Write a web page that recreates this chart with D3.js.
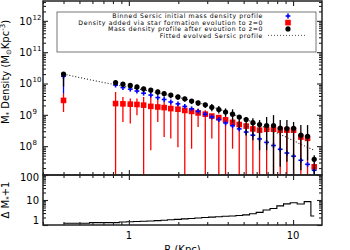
<!DOCTYPE html>
<html>
<head>
<meta charset="utf-8">
<script src="https://cdn.jsdelivr.net/npm/d3@7"></script>
<style>
body { margin: 0; background: #fff; }
svg { display: block; font-family: "DejaVu Sans", sans-serif; }
</style>
</head>
<body>
<svg width="350" height="250"></svg>
<script>
// bin centres (Kpc)
var radius = [0.40, 0.83, 0.92, 1.02, 1.12, 1.23, 1.36, 1.50, 1.64, 1.80, 1.99, 2.19, 2.41, 2.64, 2.92, 3.20,
    3.53, 3.88, 4.28, 4.70, 5.18, 5.69, 6.25, 6.90, 7.60, 8.35, 9.17, 10.07, 11.15, 12.25, 13.45];

// binned sersic initial profile (blue)
var initial = [1.70e10, 8.91e9, 7.41e9, 6.61e9, 5.75e9, 4.90e9, 4.27e9, 3.55e9, 3.09e9, 2.57e9, 2.24e9, 1.86e9,
    1.55e9, 1.29e9, 1.05e9, 8.51e8, 7.08e8, 5.50e8, 4.47e8, 3.55e8, 2.82e8, 2.24e8, 1.70e8, 1.32e8, 1.05e8,
    7.94e7, 6.03e7, 4.79e7, 3.55e7, 2.63e7, 1.70e7];
var initialHi = [null, null, null, null, null, null, null, null, null, null, null, null, null, null, null, null,
    null, null, null, null, null, null, null, null, null, null, null, null, null, null, 1.70e7];
var initialLo = [4.8e9, null, null, null, null, null, null, null, null, null, null, null, null, null, null, null,
    null, null, null, null, null, null, null, null, null, null, null, null, null, null, 0];

// density added via star formation (red)
var added = [2.88e9, 2.29e9, 2.24e9, 2.19e9, 2.14e9, 2.04e9, 1.86e9, 1.78e9, 1.70e9, 1.58e9, 1.51e9, 1.38e9,
    1.29e9, 1.15e9, 1.05e9, 9.12e8, 8.13e8, 6.92e8, 5.75e8, 4.90e8, 4.37e8, 3.55e8, 3.24e8, 3.47e8, 3.47e8,
    3.24e8, 3.24e8, 3.24e8, 1.95e8, 1.78e8, 2.19e7];
var addedHi = [4.9e9, 5.37e9, 3.72e9, 3.31e9, 3.31e9, 3.72e9, 4.27e9, 2.95e9, 2.57e9, 2.57e9, 2.29e9, 2.0e9,
    1.78e9, 1.58e9, 1.41e9, 1.05e9, 1.0e9, 8.9e8, 7.9e8, 6.3e8, 5.6e8, 5.0e8, 4.5e8, 4.5e8, 4.5e8, 4.2e8,
    4.2e8, 4.2e8, 2.6e8, 2.4e8, 2.8e7];
var addedLo = [1.23e9, 0, 5.9e8, 5.25e8, 9.77e8, 0, 7.4e7, 5.9e8, 1.95e8, 1.74e8, 9.3e7, 0, 8.3e7, 4.1e8, 0,
    1.74e8, 0, 0, 8.3e7, 0, 0, 0, 0, 0, 0, 0, 0, 0, 0, 0, 1.6e7];

// mass density after evolution (black)
var evolved = [2.00e10, 1.07e10, 9.55e9, 8.71e9, 7.76e9, 6.76e9, 6.17e9, 5.37e9, 4.79e9, 4.27e9, 3.72e9, 3.24e9,
    2.75e9, 2.40e9, 2.09e9, 1.74e9, 1.48e9, 1.23e9, 1.05e9, 8.51e8, 7.08e8, 5.62e8, 4.90e8, 4.57e8, 4.57e8,
    3.80e8, 3.63e8, 3.72e8, 2.24e8, 2.04e8, 3.80e7];
var evolvedHi = [2.0e10, 1.26e10, 1.12e10, 1.02e10, 9.1e9, 7.9e9, 7.2e9, 6.3e9, 5.6e9, 5.0e9, 4.4e9, 3.8e9,
    3.2e9, 2.8e9, 2.45e9, 2.2e9, 1.9e9, 1.6e9, 1.5e9, 9.5e8, 8.5e8, 7.8e8, 6.8e8, 8.5e8, 9.8e8, 6.8e8, 6.8e8,
    5.9e8, 4.7e8, 4.7e8, 5.1e7];
var evolvedLo = [8.0e9, 8.6e9, 7.6e9, 6.9e9, 6.2e9, 5.4e9, 4.9e9, 4.3e9, 3.8e9, 3.4e9, 3.0e9, 2.6e9, 2.2e9,
    1.9e9, 1.65e9, 1.3e9, 1.1e9, 8.7e8, 5.6e8, 3.7e8, 2.2e8, 1.55e8, 7.4e7, 7.4e7, 0, 2.2e7, 3.2e7, 0, 1.7e7,
    3.5e7, 0];

// fitted evolved sersic profile (dotted)
var fitRadius = [0.40, 0.675, 1.36, 2.74, 4.81, 8.09, 11.15, 13.45];
var fitDensity = [2.0e10, 1.12e10, 5.6e9, 2.34e9, 8.3e8, 2.57e8, 1.15e8, 7.4e7];

// lower panel: delta M* + 1
var deltaM = [1.17, 1.25, 1.31, 1.35, 1.38, 1.42, 1.45, 1.50, 1.55, 1.62, 1.68, 1.75, 1.83, 1.90, 2.0, 2.07,
    2.15, 2.25, 2.3, 2.4, 2.55, 2.8, 3.2, 4.0, 4.6, 5.8, 7.0, 7.8, 6.9, 8.6, 2.3];

var yTickExp = [8, 9, 10, 11, 12];
var xTickLabels = [1, 10];
var deltaTicks = [1, 10, 100];

var legendText = ["Binned Sersic initial mass density profile",
    "Density added via star formation evolution to z=0",
    "Mass density profile after evoution to z=0",
    "Fitted evolved Sersic profile"];

var svg = d3.select("svg");
var pLeft = 43, pRight = 322, pTop = 1, pMid = 175, pBottom = 225;

var x = d3.scaleLog().domain([0.3, 15]).range([pLeft, pRight]);
var y = d3.scaleLog().domain([1.2e7, 4.3e12]).range([pMid, pTop]);
var y2 = d3.scaleLog().domain([1, 100]).range([pBottom, pMid]);

function yc(v) {
    if (v == null || v <= 0) return pMid;
    return Math.max(pTop, Math.min(pMid, y(v)));
}

svg.append("clipPath").attr("id", "clipMain")
    .append("rect").attr("x", pLeft).attr("y", pTop).attr("width", pRight - pLeft).attr("height", pMid - pTop);

// legend box sits under the data
svg.append("rect")
    .attr("x", 57).attr("y", 12).attr("width", 259).attr("height", 40)
    .attr("fill", "#fff").attr("stroke", "#555").attr("stroke-width", 0.8);

var plot = svg.append("g").attr("clip-path", "url(#clipMain)");

// fitted line
var fitLine = d3.line()
    .x(function (d, i) { return x(fitRadius[i]); })
    .y(function (d) { return y(d); })
    .curve(d3.curveMonotoneX);
plot.append("path")
    .datum(fitDensity)
    .attr("d", fitLine)
    .attr("fill", "none")
    .attr("stroke", "#222")
    .attr("stroke-width", 1.1)
    .attr("stroke-dasharray", "1,2");

// red error bars + squares
plot.selectAll(".redbar").data(added).enter().append("line")
    .attr("x1", function (d, i) { return x(radius[i]); })
    .attr("x2", function (d, i) { return x(radius[i]); })
    .attr("y1", function (d, i) { return yc(addedHi[i]); })
    .attr("y2", function (d, i) { return yc(addedLo[i]); })
    .attr("stroke", "#ff0000")
    .attr("stroke-width", 1.3);

plot.selectAll(".redsq").data(added).enter().append("rect")
    .attr("x", function (d, i) { return x(radius[i]) - 2.8; })
    .attr("y", function (d) { return y(d) - 2.8; })
    .attr("width", 5.6).attr("height", 5.6)
    .attr("fill", "#ff0000");

// blue bars + plus markers
radius.forEach(function (r, i) {
    if (initialLo[i] == null) return;
    plot.append("line")
        .attr("x1", x(r)).attr("x2", x(r))
        .attr("y1", yc(initialHi[i] == null ? initial[i] : initialHi[i]))
        .attr("y2", yc(initialLo[i]))
        .attr("stroke", "#0000ff")
        .attr("stroke-width", 1.3);
});

var plus = plot.selectAll(".plus").data(initial).enter().append("g")
    .attr("transform", function (d, i) { return "translate(" + x(radius[i]) + "," + y(d) + ")"; });
plus.append("line").attr("x1", -2.4).attr("x2", 2.4).attr("stroke", "#0000ff").attr("stroke-width", 1.6);
plus.append("line").attr("y1", -2.4).attr("y2", 2.4).attr("stroke", "#0000ff").attr("stroke-width", 1.6);

// black bars + dots
plot.selectAll(".blkbar").data(evolved).enter().append("line")
    .attr("x1", function (d, i) { return x(radius[i]); })
    .attr("x2", function (d, i) { return x(radius[i]); })
    .attr("y1", function (d, i) { return yc(evolvedHi[i]); })
    .attr("y2", function (d, i) { return yc(evolvedLo[i]); })
    .attr("stroke", "#000")
    .attr("stroke-width", 1.3);

plot.selectAll(".dot").data(evolved).enter().append("circle")
    .attr("cx", function (d, i) { return x(radius[i]); })
    .attr("cy", function (d) { return y(d); })
    .attr("r", 2.6)
    .attr("fill", "#000");

// lower panel step line
var stepLine = d3.line()
    .x(function (d, i) { return x(radius[i]); })
    .y(function (d) { return y2(d); })
    .curve(d3.curveStep);
svg.append("path")
    .datum(deltaM)
    .attr("d", stepLine)
    .attr("fill", "none")
    .attr("stroke", "#000")
    .attr("stroke-width", 1.1);

// axes: ticks pointing inward on all sides
function isMajor(v) { return Math.abs(Math.log10(v) - Math.round(Math.log10(v))) < 1e-6; }

function tickAxes(scale, axisFn, transform) {
    var all = scale.ticks();
    var majors = all.filter(isMajor), minors = all.filter(function (v) { return !isMajor(v); });
    [[majors, 5], [minors, 3]].forEach(function (p) {
        var g = svg.append("g")
            .attr("transform", transform)
            .call(axisFn(scale).tickValues(p[0]).tickSize(-p[1]).tickFormat(""));
        g.select(".domain").remove();
        g.selectAll("line").attr("stroke", "#222").attr("stroke-width", 1.1);
    });
}

tickAxes(y, d3.axisLeft, "translate(" + pLeft + ",0)");
tickAxes(y, d3.axisRight, "translate(" + pRight + ",0)");
tickAxes(y2, d3.axisLeft, "translate(" + pLeft + ",0)");
tickAxes(y2, d3.axisRight, "translate(" + pRight + ",0)");
tickAxes(x, d3.axisTop, "translate(0," + pTop + ")");
tickAxes(x, d3.axisBottom, "translate(0," + pMid + ")");
tickAxes(x, d3.axisTop, "translate(0," + pMid + ")");
tickAxes(x, d3.axisBottom, "translate(0," + pBottom + ")");

// frames
[[pTop, pMid], [pMid, pBottom]].forEach(function (p) {
    svg.append("rect")
        .attr("x", pLeft).attr("y", p[0])
        .attr("width", pRight - pLeft).attr("height", p[1] - p[0])
        .attr("fill", "none").attr("stroke", "#222").attr("stroke-width", 1.5);
});

// tick labels
svg.selectAll(".ylab").data(yTickExp).enter().append("text")
    .attr("x", 32).attr("y", function (d) { return y(Math.pow(10, d)) + 4; })
    .attr("text-anchor", "end")
    .attr("font-size", 10)
    .text("10");
svg.selectAll(".ysup").data(yTickExp).enter().append("text")
    .attr("x", 32.5).attr("y", function (d) { return y(Math.pow(10, d)) - 1; })
    .attr("font-size", 7)
    .text(function (d) { return d; });

svg.selectAll(".y2lab").data(deltaTicks).enter().append("text")
    .attr("x", 39)
    .attr("y", function (d) { return Math.min(224, Math.max(181, y2(d) + 4)); })
    .attr("text-anchor", "end")
    .attr("font-size", 10)
    .text(function (d) { return d; });

svg.selectAll(".xlab").data(xTickLabels).enter().append("text")
    .attr("x", function (d) { return x(d); })
    .attr("y", 239)
    .attr("text-anchor", "middle")
    .attr("font-size", 10)
    .text(function (d) { return d; });

svg.append("text")
    .attr("x", (pLeft + pRight) / 2).attr("y", 253)
    .attr("text-anchor", "middle").attr("font-size", 10)
    .text("R (Kpc)");

var ylab = svg.append("text")
    .attr("transform", "translate(9,72) rotate(-90)")
    .attr("text-anchor", "middle").attr("font-size", 10);
ylab.append("tspan").text("M");
ylab.append("tspan").attr("font-size", 7).attr("dy", 2).text("*");
ylab.append("tspan").attr("dy", -2).text(" Density (M");
ylab.append("tspan").attr("font-size", 7).attr("dy", 2).text("\u2299");
ylab.append("tspan").attr("dy", -2).text("Kpc");
ylab.append("tspan").attr("font-size", 7).attr("dy", -4).text("-3");
ylab.append("tspan").attr("dy", 4).text(")");

var dlab = svg.append("text")
    .attr("transform", "translate(9,200) rotate(-90)")
    .attr("text-anchor", "middle").attr("font-size", 10);
dlab.append("tspan").text("\u0394 M");
dlab.append("tspan").attr("font-size", 7).attr("dy", 2).text("*");
dlab.append("tspan").attr("dy", -2).text("+1");

// legend entries
var rowY = [18.3, 24.8, 31.2, 37.7];
svg.selectAll(".legtext").data(legendText).enter().append("text")
    .attr("x", 263).attr("y", function (d, i) { return rowY[i]; })
    .attr("text-anchor", "end")
    .attr("font-size", 6.2)
    .attr("letter-spacing", 0.6)
    .text(function (d) { return d; });

var lx = 288;
svg.append("line").attr("x1", lx - 2.4).attr("x2", lx + 2.4).attr("y1", rowY[0] - 2.3).attr("y2", rowY[0] - 2.3)
    .attr("stroke", "#0000ff").attr("stroke-width", 1.6);
svg.append("line").attr("x1", lx).attr("x2", lx).attr("y1", rowY[0] - 4.7).attr("y2", rowY[0] + 0.1)
    .attr("stroke", "#0000ff").attr("stroke-width", 1.6);
svg.append("rect").attr("x", lx - 2.8).attr("y", rowY[1] - 5).attr("width", 5.6).attr("height", 5.6)
    .attr("fill", "#ff0000");
svg.append("circle").attr("cx", lx).attr("cy", rowY[2] - 2.3).attr("r", 2.6).attr("fill", "#000");
svg.append("line").attr("x1", 268).attr("x2", 305).attr("y1", rowY[3] - 2.3).attr("y2", rowY[3] - 2.3)
    .attr("stroke", "#555").attr("stroke-width", 1).attr("stroke-dasharray", "1,2");
</script>
</body>
</html>
